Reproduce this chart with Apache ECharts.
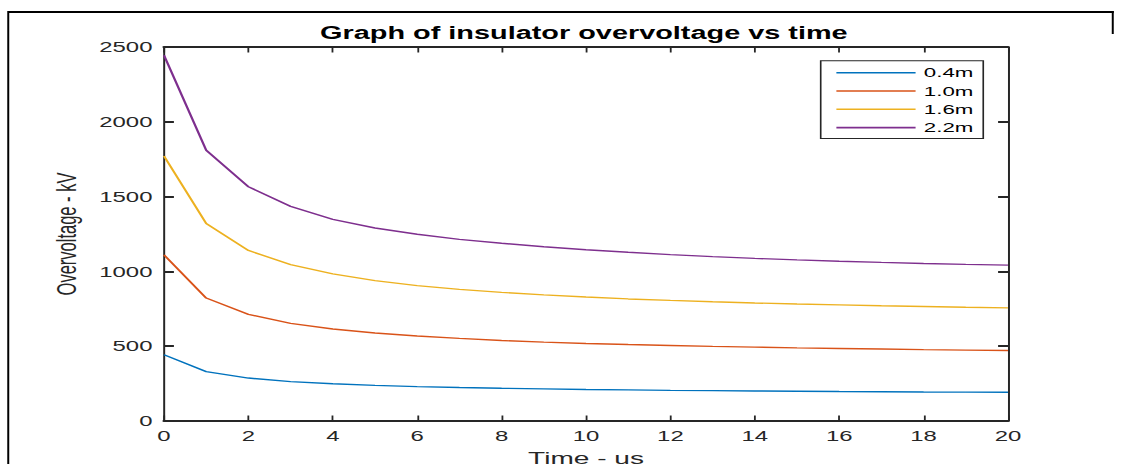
<!DOCTYPE html>
<html>
<head>
<meta charset="utf-8">
<script src="https://cdn.jsdelivr.net/npm/echarts@6/dist/echarts.min.js"></script>
<style>
  html, body { margin: 0; padding: 0; background: #ffffff; overflow: hidden; }
  /* The figure is laid out in a narrow frame and widened horizontally. */
  #chart { width: 680px; height: 464px; transform: scaleX(1.65); transform-origin: 0 0; }
</style>
</head>
<body>
<div id="chart"></div>
<script>
// Time axis (microseconds)
const times = [0, 1, 2, 3, 4, 5, 6, 7, 8, 9, 10, 11, 12, 13, 14, 15, 16, 17, 18, 19, 20];

// Overvoltage (kV) for each insulator length
const v04 = [443, 330, 287, 263, 249, 238, 230, 224, 219, 215, 211, 208, 205, 203, 201, 199, 197, 196, 194, 193, 192];
const v10 = [1110, 822, 713, 653, 615, 588, 568, 552, 538, 527, 518, 511, 505, 499, 494, 489, 485, 481, 477, 474, 471];
const v16 = [1772, 1320, 1140, 1045, 983, 938, 905, 880, 860, 843, 829, 816, 806, 797, 789, 782, 776, 770, 765, 760, 756];
const v22 = [2445, 1810, 1566, 1435, 1348, 1290, 1248, 1214, 1188, 1165, 1145, 1128, 1112, 1099, 1087, 1077, 1068, 1060, 1053, 1047, 1042];

const seriesNames = ['0.4m', '1.0m', '1.6m', '2.2m'];
const seriesValues = [v04, v10, v16, v22];
const seriesColors = ['#0072BD', '#D95319', '#EDB120', '#7E2F8E'];

const xTicks = { min: 0, max: 20, interval: 2 };
const yTicks = { min: 0, max: 2500, interval: 500 };

const axisColor = '#262626';
const font = 'Liberation Sans, Arial, Helvetica, sans-serif';
const plain = v => String(v);

const chart = echarts.init(document.getElementById('chart'), null, { renderer: 'svg' });

function xAxisDef(pos, labels) {
  return {
    type: 'value', position: pos, gridIndex: 0,
    min: xTicks.min, max: xTicks.max, interval: xTicks.interval,
    axisLine: { show: true, onZero: false, lineStyle: { color: axisColor, width: 2 } },
    axisTick: { show: true, inside: true, length: 5.5, lineStyle: { color: axisColor, width: 1.1 } },
    axisLabel: { show: labels, color: axisColor, fontSize: 14.5, fontFamily: font, margin: 7, formatter: plain },
    splitLine: { show: false }
  };
}
function yAxisDef(pos, labels) {
  return {
    type: 'value', position: pos, gridIndex: 0,
    min: yTicks.min, max: yTicks.max, interval: yTicks.interval,
    axisLine: { show: true, onZero: false, lineStyle: { color: axisColor, width: 1.2 } },
    axisTick: { show: true, inside: true, length: 6, lineStyle: { color: axisColor, width: 2 } },
    axisLabel: { show: labels, color: axisColor, fontSize: 14.5, fontFamily: font, margin: 7, formatter: plain },
    splitLine: { show: false }
  };
}

const xBottom = xAxisDef('bottom', true);
xBottom.name = 'Time - us';
xBottom.nameLocation = 'middle';
xBottom.nameGap = 29;
xBottom.nameTextStyle = { color: axisColor, fontSize: 17, fontFamily: font };

const yLeft = yAxisDef('left', true);
yLeft.name = 'Overvoltage - kV';
yLeft.nameLocation = 'middle';
yLeft.nameGap = 46;
yLeft.nameTextStyle = { color: axisColor, fontSize: 16.5, fontFamily: font };

const option = {
  animation: false,
  backgroundColor: '#ffffff',
  title: {
    text: 'Graph of insulator overvoltage vs time',
    left: 194, top: 24, padding: 0,
    textStyle: { color: '#000000', fontSize: 17.5, fontWeight: 'bold', fontFamily: font }
  },
  grid: { left: 99.4, right: 69.1, top: 47, bottom: 43, containLabel: false, outerBoundsMode: 'none' },
  xAxis: [xBottom, xAxisDef('top', false)],
  yAxis: [yLeft, yAxisDef('right', false)],
  legend: {
    orient: 'vertical',
    left: 497.4, top: 60.7,
    padding: [5, 6, 4, 9.5],
    itemGap: 4.3, itemWidth: 48, itemHeight: 1.6,
    backgroundColor: '#ffffff',
    borderColor: axisColor, borderWidth: 1,
    textStyle: { color: '#000000', fontSize: 13.5, lineHeight: 14, fontFamily: font },
    data: seriesNames.map(n => ({ name: n, icon: 'rect' }))
  },
  graphic: [
    // figure border
    { type: 'line', shape: { x1: 4.9, y1: 12, x2: 675, y2: 12 }, style: { stroke: '#000', lineWidth: 2 } },
    { type: 'line', shape: { x1: 5.0, y1: 11, x2: 5.0, y2: 470 }, style: { stroke: '#000', lineWidth: 1.2 } },
    { type: 'line', shape: { x1: 674.4, y1: 11, x2: 674.4, y2: 34 }, style: { stroke: '#000', lineWidth: 1.2 } }
  ],
  series: seriesNames.map((name, i) => ({
    name: name,
    type: 'line',
    xAxisIndex: 0, yAxisIndex: 0,
    symbol: 'none',
    color: seriesColors[i],
    lineStyle: { width: 1.4, color: seriesColors[i] },
    data: times.map((t, k) => [t, seriesValues[i][k]])
  }))
};

chart.setOption(option);
</script>
</body>
</html>
